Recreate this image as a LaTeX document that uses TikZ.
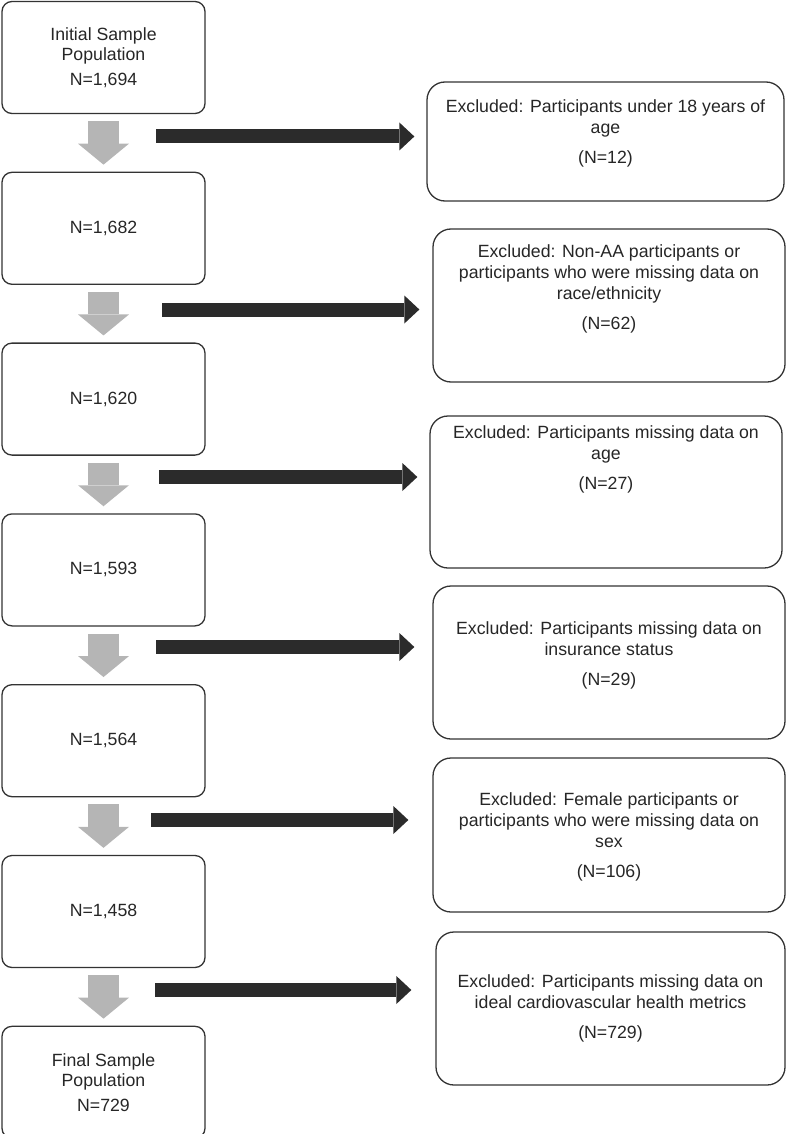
\documentclass[tikz,border=0pt]{standalone}
\usepackage{fontspec}
\setmainfont{Liberation Sans}
\usetikzlibrary{positioning,arrows.meta}
\begin{document}
\begin{tikzpicture}[x=1pt,y=-1pt,node distance=57.5pt,
  stage/.style={draw=black!80,line width=1.3pt,rounded corners=10pt,minimum width=203pt,minimum height=112pt,align=center,text=black!85,font=\fontsize{17.7}{20.5}\selectfont},
  exbox/.style={draw=black!80,line width=1.3pt,rounded corners=18pt,minimum width=352pt},
  extext/.style={anchor=north,inner sep=0pt,align=center,text=black!85,font=\fontsize{17.7}{21.2}\selectfont},
  grayarr/.style={draw=black!29,line width=31pt,shorten <=7pt,shorten >=7pt,-{Triangle[width=51pt,length=21pt,line width=0pt]}},
  exarr/.style={draw=black!83,line width=14pt,-{Triangle[width=28pt,length=15pt,line width=0pt]}}]
\useasboundingbox (0,0) rectangle (788,1134);
\node[stage] (n1) at (103.5,57.5) {Initial Sample\\Population\\[4pt]N=1,694};
\node[stage,below=of n1] (n2) {N=1,682};
\node[stage,below=of n2] (n3) {N=1,620};
\node[stage,below=of n3] (n4) {N=1,593};
\node[stage,below=of n4] (n5) {N=1,564};
\node[stage,below=of n5] (n6) {N=1,458};
\node[stage,below=of n6] (n7) {Final Sample\\Population\\[4pt]N=729};
\foreach \a/\b in {n1/n2,n2/n3,n3/n4,n4/n5,n5/n6,n6/n7}
  \draw[grayarr] (\a) -- (\b);
\node[exbox,minimum width=357pt,minimum height=119pt] (e1) at (605.5,141.5) {};
\node[exbox,minimum height=153pt] (e2) at (609,305.5) {};
\node[exbox,minimum height=152pt] (e3) at (606,492) {};
\node[exbox,minimum height=153pt] (e4) at (609,662.5) {};
\node[exbox,minimum height=154pt] (e5) at (609,835) {};
\node[exbox,minimum width=349pt,minimum height=153pt] (e6) at (610.5,1008.5) {};
\node[extext,below=18pt of e1.north] (t1) {Excluded: Participants under 18 years of\\age\\[9pt](N=12)};
\node[extext,below=16pt of e2.north] (t2) {Excluded: Non-AA participants or\\participants who were missing data on\\race/ethnicity\\[9pt](N=62)};
\node[extext,below=10pt of e3.north] (t3) {Excluded: Participants missing data on\\age\\[9pt](N=27)};
\node[extext,below=36pt of e4.north] (t4) {Excluded: Participants missing data on\\insurance status\\[9pt](N=29)};
\node[extext,below=35pt of e5.north] (t5) {Excluded: Female participants or\\participants who were missing data on\\sex\\[9pt](N=106)};
\node[extext,below=43pt of e6.north] (t6) {Excluded: Participants missing data on\\ideal cardiovascular health metrics\\[9pt](N=729)};
\foreach \i/\xs/\ys/\gap in {1/156/136.5/12,2/162/309.5/13,3/159/477/12,4/156/647/18,5/151/820/24,6/155/990/24}{
  \coordinate (a\i) at (\xs,\ys);
  \draw[exarr,shorten >=\gap pt] (a\i) -- (a\i -| e\i.west);
}
\end{tikzpicture}
\end{document}
